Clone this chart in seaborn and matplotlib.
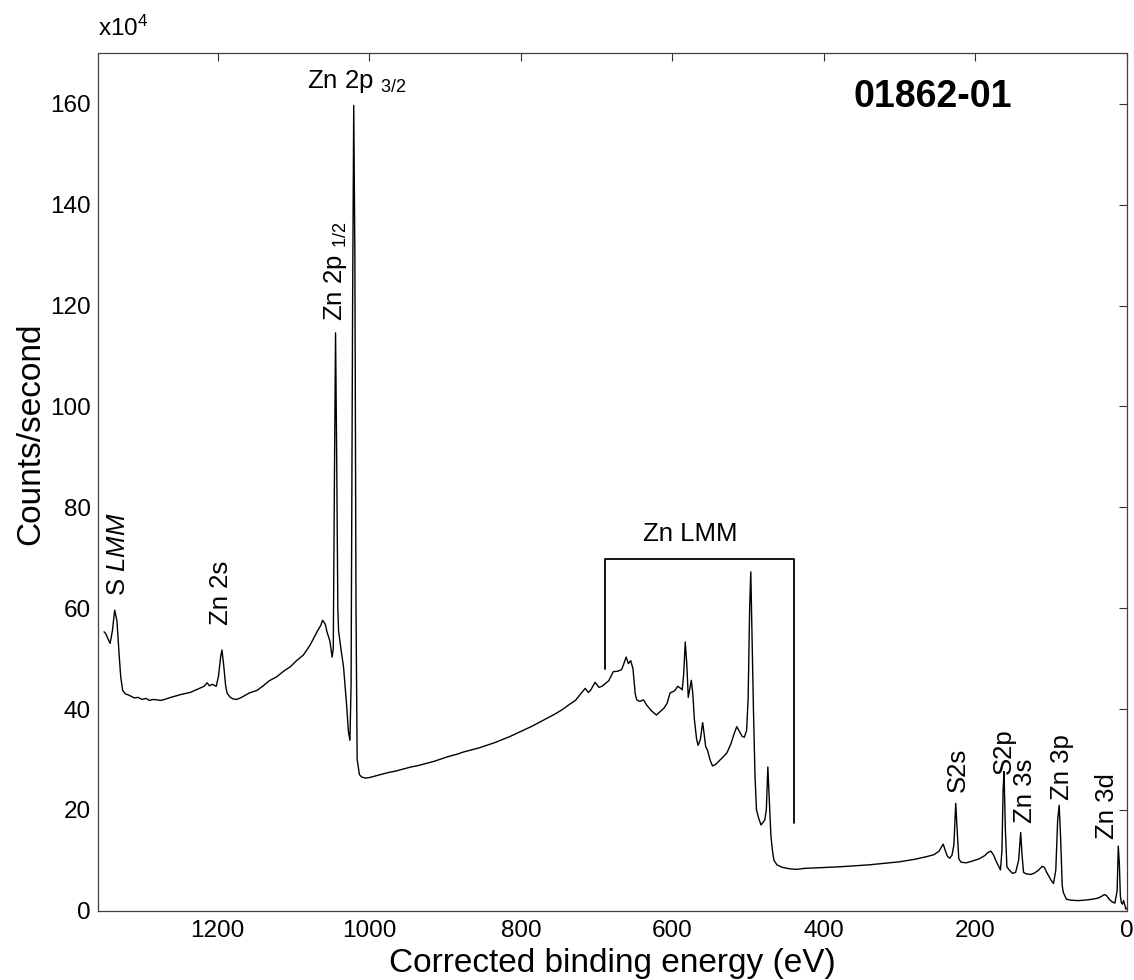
import matplotlib
matplotlib.use("Agg")
import matplotlib.pyplot as plt
import seaborn as sns
import pandas as pd

# ---------------- data ----------------
energy_ev = [
    1350, 1348, 1345, 1342, 1339, 1336, 1333, 1330, 1328, 1325.5, 1322, 1318, 1314, 1310,
    1305, 1300, 1295, 1290, 1285, 1280, 1275, 1270, 1262, 1255, 1248, 1242, 1236, 1230,
    1224, 1218, 1214, 1211, 1207, 1202, 1199, 1196, 1194.4, 1192, 1189.5, 1187.5, 1184,
    1180, 1175, 1170, 1164, 1158, 1148, 1140, 1132, 1122, 1113, 1104, 1096, 1087, 1078,
    1069, 1064, 1061.6, 1058, 1055.8, 1052, 1049, 1047.5, 1046, 1044.5, 1043, 1041.5,
    1040.5, 1037, 1034, 1030, 1027.5, 1025.5, 1024, 1022, 1020.5, 1019, 1017.5, 1016,
    1013, 1010, 1005, 1000, 993, 985, 975, 965, 955, 945, 935, 925, 915, 905, 895, 885,
    875, 865, 855, 845, 835, 825, 815, 805, 795, 785, 775, 765, 755, 745, 735, 728, 722,
    715, 711, 708, 702, 697, 693, 688, 684, 678, 672, 667, 664, 661, 658, 655, 652, 649,
    647, 643, 638, 634, 628, 621, 616, 611, 607, 603, 597, 593, 589, 587, 585, 583, 581,
    579, 577, 575, 573, 571, 568, 566, 563, 560, 558, 556, 554, 550, 547, 543, 537, 533,
    528, 523, 518, 515, 511, 508, 505, 502, 500, 498, 496.5, 495, 493, 491, 489, 486, 483,
    480, 478, 476, 474, 472, 470, 468, 466, 462, 455, 445, 436, 425, 410, 395, 380, 360,
    340, 320, 300, 280, 265, 255, 248, 245, 242.5, 240, 237, 234, 231, 228.5, 226, 224,
    222, 219, 212, 205, 195, 188, 183, 179.5, 176, 173, 170, 167, 165, 163.5, 162.3, 160.5,
    158.5, 155, 151, 147, 143, 140.3, 138.5, 136.5, 133, 127, 123, 117, 112, 109, 106, 103,
    100, 97, 94, 91.5, 89.5, 87.5, 85.5, 84, 80, 75, 65, 55, 45, 38, 33, 30, 27, 23, 20,
    16, 13, 11.5, 10, 8.8, 7.5, 6, 4.5, 3, 1.5, 0.5,
]
counts_1e4 = [
    55.3, 55.0, 54.0, 53.0, 55.5, 59.6, 57.5, 50.5, 46.4, 43.7, 43.0, 42.8, 42.5, 42.2,
    42.3, 41.9, 42.1, 41.7, 41.9, 41.8, 41.7, 41.9, 42.3, 42.6, 42.9, 43.1, 43.3, 43.7,
    44.1, 44.5, 45.2, 44.6, 44.9, 44.5, 46.5, 50.5, 51.7, 48.5, 44.5, 43.1, 42.4,
    42.0, 41.9, 42.2, 42.7, 43.2, 43.7, 44.6, 45.6, 46.4, 47.5, 48.4, 49.6, 50.7, 52.7,
    55.3, 56.6, 57.6, 56.8, 55.3, 53.5, 50.3, 52.0, 85.0, 114.6, 90.0, 60.0,
    55.5, 51.5, 48.4, 41.0, 35.5, 33.8, 45.0, 120.0, 159.7, 130.0, 60.0, 30.0,
    27.0, 26.5, 26.3, 26.4, 26.7, 27.0, 27.4, 27.7, 28.1, 28.5, 28.8, 29.2, 29.6, 30.1, 30.6, 31.0,
    31.5, 31.9, 32.3, 32.8, 33.3, 33.9, 34.5, 35.2, 35.9, 36.6, 37.4, 38.2, 39.0, 39.9, 41.0, 41.7, 42.8,
    44.1, 43.3, 43.7, 45.3, 44.3, 44.5, 45.1, 45.6, 47.4, 47.5, 47.8, 49.0, 50.3, 49.0, 49.6, 48.0, 43.0,
    41.8, 41.5, 41.8, 40.8, 39.7, 38.8, 39.5, 40.2, 41.1, 43.2, 43.6, 44.5, 44.1, 43.8, 47.0, 53.3, 49.0,
    42.3, 44.0, 45.7, 43.0, 38.0, 34.0, 32.8, 34.0, 37.3, 35.0, 32.5, 32.0, 29.8, 28.7, 29.0, 29.9, 30.5,
    31.3, 33.0, 35.3, 36.5, 35.4, 34.6, 34.4, 35.8, 42.0, 60.0, 67.2, 55.0, 40.0, 27.0, 20.0, 18.3, 17.0,
    17.6, 18.0, 20.0, 28.5, 22.0, 15.0, 12.0, 10.0, 9.1, 8.6, 8.3, 8.2, 8.4, 8.5, 8.6, 8.7, 8.9,
    9.1, 9.4, 9.7, 10.2, 10.7, 11.1, 11.8, 12.6, 13.2, 12.0, 10.8, 10.4, 11.0, 13.0, 21.3, 15.5,
    10.3, 9.6, 9.5, 9.8, 10.3, 10.9, 11.6, 11.8, 11.0, 9.9, 9.0, 8.1, 12.0, 24.0, 27.6, 16.0,
    8.7, 8.0, 7.4, 7.6, 10.0, 15.5, 11.0, 7.6, 7.3, 7.2, 7.4, 8.0, 8.8, 8.6, 7.6, 6.8,
    6.0, 5.4, 8.0, 18.0, 20.9, 14.0, 5.0, 3.6, 2.3, 2.1, 2.0, 2.1, 2.3, 2.5, 2.9, 3.2, 3.0, 2.2, 1.8,
    1.5, 4.0, 12.8, 9.0, 3.0, 1.6, 1.3, 2.0, 1.2, 0.3, 0.5,
]
x_ticks = [0, 200, 400, 600, 800, 1000, 1200]
y_ticks = [0, 20, 40, 60, 80, 100, 120, 140, 160]
peak_labels = ["S $\\mathit{LMM}$", "Zn 2s", "Zn 2p $_{1/2}$", "Zn 2p $_{3/2}$",
               "Zn LMM", "S2s", "S2p", "Zn 3s", "Zn 3p", "Zn 3d"]
sample_id = "01862-01"

# ---------------- style ----------------
sns.set_theme(style="white")
plt.rcParams["font.family"] = ["Liberation Sans", "DejaVu Sans"]
plt.rcParams["mathtext.fontset"] = "custom"
plt.rcParams["mathtext.rm"] = "Liberation Sans"
plt.rcParams["mathtext.it"] = "Liberation Sans:italic"
plt.rcParams["mathtext.bf"] = "Liberation Sans:bold"
plt.rcParams["text.color"] = "black"
plt.rcParams["axes.labelcolor"] = "black"
plt.rcParams["xtick.color"] = "black"
plt.rcParams["ytick.color"] = "black"

W, H = 1134, 980
fig = plt.figure(figsize=(W / 100, H / 100), dpi=100)
fig.patch.set_facecolor("white")
ax = fig.add_axes([98 / W, 1 - 910.7 / H, (1127 - 98) / W, (910.7 - 53.5) / H])

df = pd.DataFrame({"energy": energy_ev, "counts": counts_1e4})
sns.lineplot(data=df, x="energy", y="counts", ax=ax, color="black",
             linewidth=1.0, estimator=None, sort=True)

ax.set_xlim(1358, 0)
ax.set_ylim(0, 170)
ax.set_xticks(x_ticks)
ax.set_yticks(y_ticks)
ax.tick_params(axis="both", which="both", direction="in", length=6, width=0.8,
               colors="#333333", labelcolor="black", labelsize=17.5,
               top=True, right=True)
ax.tick_params(axis="x", pad=7)
ax.tick_params(axis="y", pad=5)
for s in ax.spines.values():
    s.set_color("#404040")
    s.set_linewidth(0.9)
ax.grid(False)

ax.set_xlabel("Corrected binding energy (eV)", fontsize=24, color="black")
ax.xaxis.set_label_coords(0.4995, -0.044)
ax.set_ylabel("Counts/second", fontsize=24, color="black")
ax.yaxis.set_label_coords(-0.05, 0.556)

# exponent marker
ax.text(0, (910.7 - 36) / 857.2, "x10$^{4}$", transform=ax.transAxes,
        ha="left", va="baseline", fontsize=17.5, color="black")

# sample id
ax.text(256.6, 161.4, sample_id, ha="center", va="center",
        fontsize=27, fontweight="bold", color="black")

# peak labels: (label, x, y, rotation, va)
placements = [
    (peak_labels[0], 1332, 62.5, 90, "bottom"),
    (peak_labels[1], 1196, 56.6, 90, "bottom"),
    (peak_labels[2], 1045, 117.0, 90, "bottom"),
    (peak_labels[3], 1016, 161.7, 0, "bottom"),
    (peak_labels[4], 576.5, 74.8, 0, "center"),
    (peak_labels[5], 223.6, 23.6, 90, "bottom"),
    (peak_labels[6], 163.2, 27.2, 90, "bottom"),
    (peak_labels[7], 134.6, 17.3, 90, "bottom"),
    (peak_labels[8], 86.2, 21.9, 90, "bottom"),
    (peak_labels[9], 26.8, 14.3, 90, "bottom"),
]
for txt, x, y, rot, va in placements:
    ax.text(x, y, txt, rotation=rot, ha="center", va=va, fontsize=18.5, color="black")

# Zn LMM bracket
ax.plot([689, 689, 440, 440], [48.0, 69.7, 69.7, 17.3], color="black", linewidth=1.3)

fig.savefig("out.png", dpi=100, facecolor="white")
